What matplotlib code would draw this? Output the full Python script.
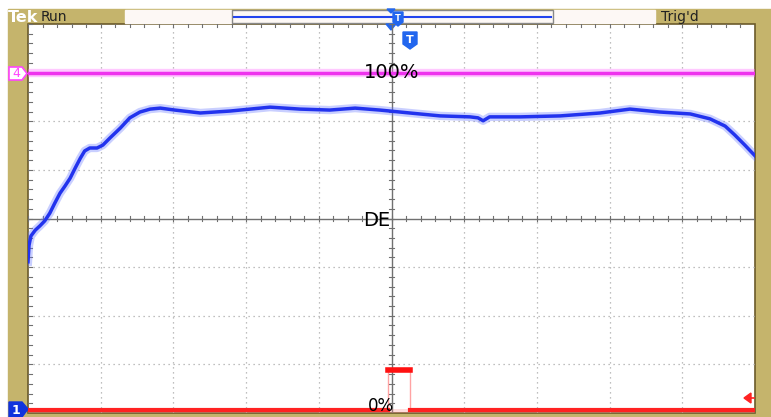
import matplotlib.pyplot as plt
from matplotlib.patches import Rectangle, Polygon

# 数据（单位：格）
blue_t = [0, 0.014, 0.04, 0.10, 0.165, 0.23, 0.30, 0.37, 0.44, 0.51, 0.58, 0.65, 0.72, 0.78,
          0.85, 0.95, 1.03, 1.13, 1.27, 1.40, 1.54, 1.68, 1.82, 2.02, 2.37, 2.78, 3.33, 3.74,
          4.15, 4.50, 4.84, 5.25, 5.67, 6.08, 6.19, 6.26, 6.35, 6.77, 7.32, 7.87, 8.28, 8.69,
          9.11, 9.38, 9.59, 9.72, 9.86, 10.0]
blue_v = [-0.89, -0.55, -0.36, -0.24, -0.15, -0.05, 0.11, 0.32, 0.52, 0.67, 0.83, 1.04, 1.24, 1.39,
          1.45, 1.45, 1.51, 1.66, 1.86, 2.07, 2.19, 2.25, 2.27, 2.23, 2.17, 2.21, 2.29, 2.25,
          2.23, 2.27, 2.23, 2.17, 2.11, 2.09, 2.07, 2.01, 2.09, 2.09, 2.11, 2.17, 2.25, 2.19,
          2.15, 2.05, 1.90, 1.72, 1.51, 1.29]
magenta_level = 3.0
red_t = [0, 4.95, 4.95, 5.25, 5.25, 10]
red_v = [-3.93, -3.93, -3.12, -3.12, -3.93, -3.93]

tan = '#c5b46c'
W, H = 771, 417
fig = plt.figure(figsize=(W / 100, H / 100), dpi=100)

# 背景外框
bg = fig.add_axes([0, 0, 1, 1])
bg.set_xlim(0, W)
bg.set_ylim(H, 0)
bg.axis('off')
bg.add_patch(Rectangle((8, 9), W - 8, H - 9, color=tan, zorder=0))
bg.add_patch(Rectangle((28, 24), 727, 389, facecolor='white', edgecolor='#6b5a2a', lw=1.2, zorder=1))
bg.add_patch(Rectangle((125, 10), 106, 13, color='#fdf8f5', zorder=1))
bg.add_patch(Rectangle((553, 10), 102, 13, color='#fdf8f5', zorder=1))
bg.add_patch(Rectangle((232, 10), 321, 13, facecolor='#fdf8f5', edgecolor='#888888', lw=1, zorder=1))
bg.plot([234, 551], [16.5, 16.5], color='#2244ee', lw=1.5, zorder=2)
bg.add_patch(Polygon([[387, 9], [395, 9], [391, 13]], color='#2266ee', zorder=3))
bg.add_patch(Polygon([[393, 12], [403, 12], [403, 22], [398, 26], [393, 22]], color='#2266ee', zorder=3))
bg.text(398, 18, 'T', color='white', fontsize=6, fontweight='bold', ha='center', va='center', zorder=4)
bg.text(8, 17, 'Tek', color='white', fontsize=11.5, fontweight='bold', ha='left', va='center')
bg.text(41, 17, 'Run', color='#222222', fontsize=10, ha='left', va='center')
bg.text(661, 17, "Trig'd", color='#222222', fontsize=10, ha='left', va='center')
# 通道标记
bg.add_patch(Polygon([[9, 67], [22, 67], [27, 73.5], [22, 80], [9, 80]], facecolor='white',
                     edgecolor='#ff44ff', lw=1.2, zorder=3))
bg.text(16, 73.5, '4', color='#ff44ff', fontsize=9, ha='center', va='center', zorder=4)
bg.add_patch(Polygon([[9, 402], [22, 402], [28, 409], [22, 417], [9, 417]], color='#1133dd', zorder=3))
bg.text(16, 410, '1', color='white', fontsize=9, fontweight='bold', ha='center', va='center', zorder=4)

# 主图格
ax = fig.add_axes([28 / W, 4 / H, 727 / W, 389 / H])
ax.patch.set_alpha(0)
ax.set_xlim(0, 10)
ax.set_ylim(-4, 4)
ax.axis('off')
for i in range(1, 10):
    if i != 5:
        ax.axvline(i, color='#aaaaaa', lw=0.9, ls=(0, (1, 3)), zorder=1)
for j in range(-3, 4):
    if j != 0:
        ax.axhline(j, color='#aaaaaa', lw=0.9, ls=(0, (1, 3)), zorder=1)
ax.axvline(5, color='#707070', lw=1, zorder=1)
ax.axhline(0, color='#707070', lw=1, zorder=1)
for k in range(51):
    x = k * 0.2
    ax.plot([x, x], [-0.06, 0.06], color='#707070', lw=0.8, zorder=1)
    ax.plot([x, x], [3.94, 4.0], color='#707070', lw=0.8, zorder=1)
for k in range(41):
    y = -4 + k * 0.2
    ax.plot([4.96, 5.04], [y, y], color='#707070', lw=0.8, zorder=1)
    ax.plot([0, 0.05], [y, y], color='#707070', lw=0.8, zorder=1)

# 波形
ax.axhline(magenta_level, color='#ff66ff', lw=6, alpha=0.35, zorder=2)
ax.axhline(magenta_level, color='#ee33ee', lw=2.5, zorder=3)
ax.plot(blue_t, blue_v, color='#6677ff', lw=6, alpha=0.35, zorder=2)
ax.plot(blue_t, blue_v, color='#2233ee', lw=2.5, zorder=3)
ax.plot(red_t, red_v, color='#ff6666', lw=1, alpha=0.6, zorder=2)
ax.plot([0, 4.95], [red_v[0], red_v[0]], color='#ff2222', lw=3, zorder=3)
ax.plot([5.25, 10], [red_v[0], red_v[0]], color='#ff2222', lw=3, zorder=3)
ax.plot([4.95, 5.25], [red_v[2], red_v[2]], color='#ff1111', lw=4, zorder=3)
ax.plot([0, 10], [red_v[0] - 0.04, red_v[0] - 0.04], color='#ff8888', lw=5, alpha=0.3, zorder=2)

# 标注
bg.add_patch(Polygon([[386, 24], [396, 24], [391, 30]], color='#2266ee', zorder=5))
bg.add_patch(Polygon([[403, 32], [417, 32], [417, 44], [410, 49], [403, 44]], color='#2266ee', zorder=5))
bg.text(410, 40, 'T', color='white', fontsize=8, fontweight='bold', ha='center', va='center', zorder=6)
ax.text(5.0, 3.0, '100%', fontsize=14, ha='center', va='center', zorder=5)
ax.text(4.8, -0.05, 'DE', fontsize=14, ha='center', va='center', zorder=5)
ax.text(4.85, -3.86, '0%', fontsize=12, ha='center', va='center', zorder=5)
bg.add_patch(Polygon([[744, 398], [751, 393], [751, 403]], color='#ff2222', zorder=5))
bg.plot([750, 754], [398, 398], color='#ff2222', lw=1.2, zorder=5)

plt.savefig('out.png', dpi=100)
